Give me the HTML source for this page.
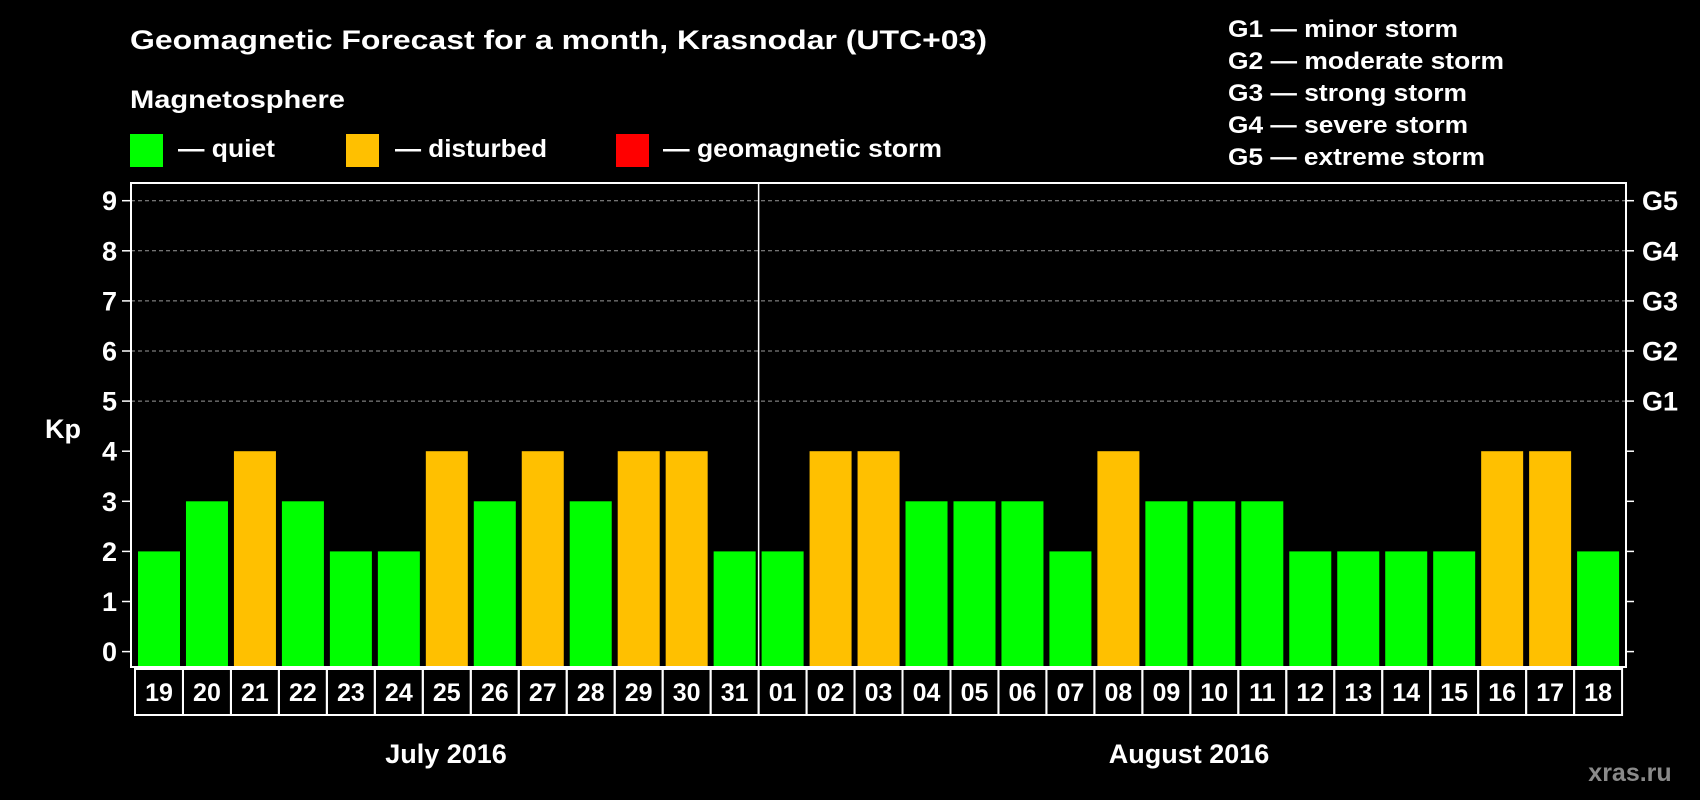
<!DOCTYPE html>
<html><head><meta charset="utf-8"><style>
html,body{margin:0;padding:0;background:#000;}
svg{display:block;font-family:"Liberation Sans",Arial,sans-serif;font-weight:bold;}
</style></head><body>
<svg id="chart" width="1700" height="800" viewBox="0 0 1700 800" xmlns="http://www.w3.org/2000/svg">
<rect x="0" y="0" width="1700" height="800" fill="#000"/>
<text x="130" y="49" fill="#fff" font-size="27" textLength="857" lengthAdjust="spacingAndGlyphs">Geomagnetic Forecast for a month, Krasnodar (UTC+03)</text>
<text x="130" y="108" fill="#fff" font-size="25" textLength="215" lengthAdjust="spacingAndGlyphs">Magnetosphere</text>
<rect x="130" y="134" width="33" height="33" fill="#00ff00"/>
<text x="178" y="157" fill="#fff" font-size="25" textLength="97" lengthAdjust="spacingAndGlyphs">— quiet</text>
<rect x="346" y="134" width="33" height="33" fill="#ffc000"/>
<text x="395" y="157" fill="#fff" font-size="25" textLength="152" lengthAdjust="spacingAndGlyphs">— disturbed</text>
<rect x="616" y="134" width="33" height="33" fill="#ff0000"/>
<text x="663" y="157" fill="#fff" font-size="25" textLength="279" lengthAdjust="spacingAndGlyphs">— geomagnetic storm</text>
<g fill="#fff" font-size="24">
<text x="1228" y="37" textLength="230" lengthAdjust="spacingAndGlyphs">G1 — minor storm</text>
<text x="1228" y="69" textLength="276" lengthAdjust="spacingAndGlyphs">G2 — moderate storm</text>
<text x="1228" y="101" textLength="239" lengthAdjust="spacingAndGlyphs">G3 — strong storm</text>
<text x="1228" y="133" textLength="240" lengthAdjust="spacingAndGlyphs">G4 — severe storm</text>
<text x="1228" y="165" textLength="257" lengthAdjust="spacingAndGlyphs">G5 — extreme storm</text>
</g>
<text x="63" y="438" fill="#fff" font-size="27" text-anchor="middle">Kp</text>
<g id="grid"></g>
<g id="bars"></g>
<g id="axes"></g>
<text x="446" y="763" fill="#fff" font-size="27" text-anchor="middle">July 2016</text>
<text x="1189" y="763" fill="#fff" font-size="27" text-anchor="middle">August 2016</text>
<text x="1630" y="781" fill="#8a8a8a" font-size="25" text-anchor="middle">xras.ru</text>
</svg>
<script>
const days = ["19","20","21","22","23","24","25","26","27","28","29","30","31","01","02","03","04","05","06","07","08","09","10","11","12","13","14","15","16","17","18"];
const kpValues = [2,3,4,3,2,2,4,3,4,3,4,4,2,2,4,4,3,3,3,2,4,3,3,3,2,2,2,2,4,4,2];
const yTicks = [0,1,2,3,4,5,6,7,8,9];
const stormLabels = ["","","","","","G1","G2","G3","G4","G5"];
const monthSplitIndex = 13;

const NS = "http://www.w3.org/2000/svg";
const plotL = 131, plotR = 1626, plotT = 183, plotB = 667;
const y0 = 651.6, unit = 50.1;
const barStart = 138, pitch = 47.97, barW = 42;
function yScale(v){ return y0 - v*unit; }
function xScale(i){ return barStart + i*pitch; }
function mk(tag, attrs, parent){
  const e = document.createElementNS(NS, tag);
  for (const k in attrs) e.setAttribute(k, attrs[k]);
  parent.appendChild(e); return e;
}
const grid = document.getElementById('grid');
const bars = document.getElementById('bars');
const axes = document.getElementById('axes');

yTicks.forEach((t,i)=>{
  const y = yScale(t);
  if (t >= 5) {
    const gl = mk('line',{x1:plotL,x2:plotR,y1:y,y2:y,stroke:'#9a9a9a','stroke-width':1,'stroke-dasharray':'4,3'},grid);
    
    
  }
  const tl = mk('line',{x1:122,x2:plotL,y1:y,y2:y,stroke:'#fff','stroke-width':1.5},axes);
  
  
  const tr = mk('line',{x1:plotR,x2:1634,y1:y,y2:y,stroke:'#fff','stroke-width':1.5},axes);
  
  
  const lab = mk('text',{x:117,y:y+9.5,fill:'#fff','font-size':27,'text-anchor':'end'},axes);
  lab.textContent = t;
  
  
  if (stormLabels[i]) {
    const g = mk('text',{x:1642,y:y+9.5,fill:'#fff','font-size':27},axes);
    g.textContent = stormLabels[i];
    
    
  }
});

kpValues.forEach((v,i)=>{
  const color = v >= 5 ? '#ff0000' : (v >= 4 ? '#ffc000' : '#00ff00');
  const r = mk('rect',{x:xScale(i),y:yScale(v),width:barW,height:plotB-yScale(v),fill:color},bars);
  
  
});

const frame = mk('rect',{x:plotL,y:plotT,width:plotR-plotL,height:plotB-plotT,fill:'none',stroke:'#fff','stroke-width':2},axes);


const splitX = xScale(monthSplitIndex) - (pitch-barW)/2;
const sep = mk('line',{x1:splitX,x2:splitX,y1:plotT,y2:plotB,stroke:'#fff','stroke-width':1.5},axes);



const boxL = 135, boxT = 669, boxB = 715;
days.forEach((d,i)=>{
  const bx = boxL + i*pitch;
  const box = mk('rect',{x:bx,y:boxT,width:pitch,height:boxB-boxT,fill:'none',stroke:'#fff','stroke-width':2},axes);
  
  
  const t = mk('text',{x:bx+pitch/2,y:701,fill:'#fff','font-size':25,'text-anchor':'middle'},axes);
  t.textContent = d;
  
  
});
</script>
</body></html>
